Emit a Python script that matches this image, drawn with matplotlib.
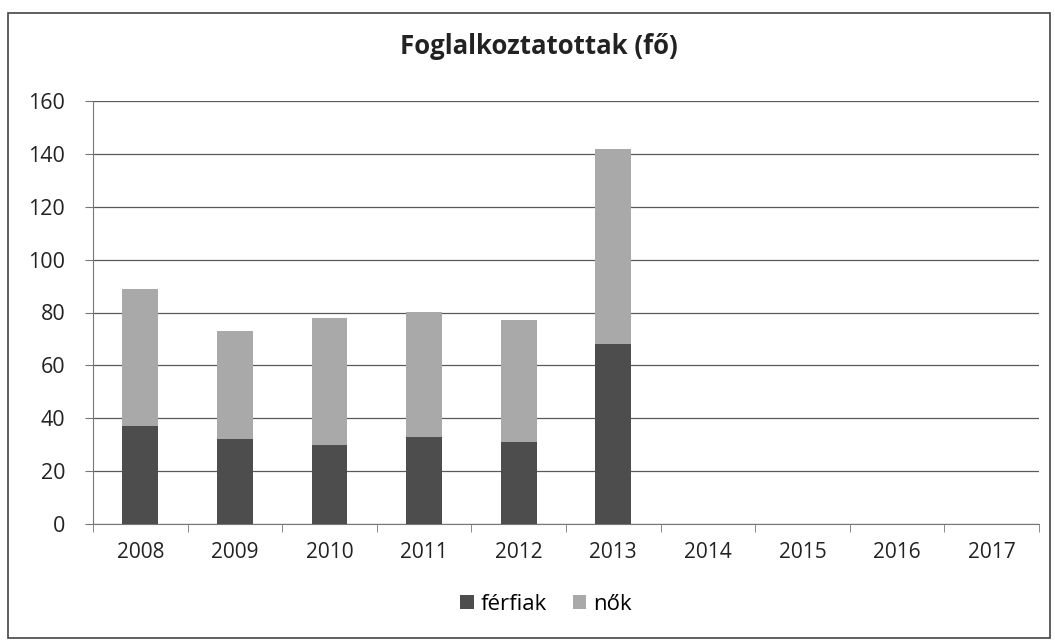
import numpy as np
import matplotlib.pyplot as plt
from matplotlib.patches import Rectangle

# Foglalkoztatottak (fő) - stacked columns
years = ['2008', '2009', '2010', '2011', '2012', '2013', '2014', '2015', '2016', '2017']
ferfiak = [37, 32, 30, 33, 31, 68, 0, 0, 0, 0]
nok = [52, 41, 48, 47, 46, 74, 0, 0, 0, 0]

plt.rcParams['font.family'] = ['Open Sans', 'DejaVu Sans']

fig = plt.figure(figsize=(10.55, 6.41), dpi=100)
ax = fig.add_axes([93 / 1055, 1 - 524 / 641, 946 / 1055, 423 / 641])

x = np.arange(len(years))
ax.bar(x, ferfiak, width=0.38, color='#4d4d4d', label='férfiak', zorder=3)
ax.bar(x, nok, width=0.38, bottom=ferfiak, color='#a9a9a9', label='nők', zorder=3)

ax.set_xlim(-0.5, len(years) - 0.5)
ax.set_ylim(0, 160)
ax.set_yticks(range(0, 161, 20))
ax.set_xticks(x)
ax.set_xticklabels(years)
ax.set_xticks(np.arange(-0.5, len(years), 1), minor=True)

ax.grid(axis='y', color='#5a5a5a', linewidth=0.9, zorder=0)
for s in ['top', 'right']:
    ax.spines[s].set_visible(False)
ax.spines['left'].set_color('#777777')
ax.spines['bottom'].set_color('#777777')

ax.tick_params(axis='x', which='major', length=0, pad=13, labelsize=15, colors='#222222')
ax.tick_params(axis='x', which='minor', length=6, color='#777777')
ax.tick_params(axis='y', length=6, pad=14, labelsize=15.5, colors='#222222')
ax.tick_params(axis='y', color='#777777')

fig.text(539 / 1055, 1 - 47 / 641, 'Foglalkoztatottak (fő)', ha='center', va='center',
         fontsize=18.5, fontweight='bold', color='#222222')

fig.legend(loc='center', bbox_to_anchor=(546 / 1055, 1 - 604 / 641), ncol=2, frameon=False,
           fontsize=16, handlelength=0.6, handleheight=0.6, handletextpad=0.3, columnspacing=1.2)

fig.patches.append(Rectangle((8 / 1055, 3 / 641), 1042 / 1055, 625 / 641, transform=fig.transFigure,
                             fill=False, edgecolor='#444444', linewidth=1.2))

fig.savefig('out.png', dpi=100)
